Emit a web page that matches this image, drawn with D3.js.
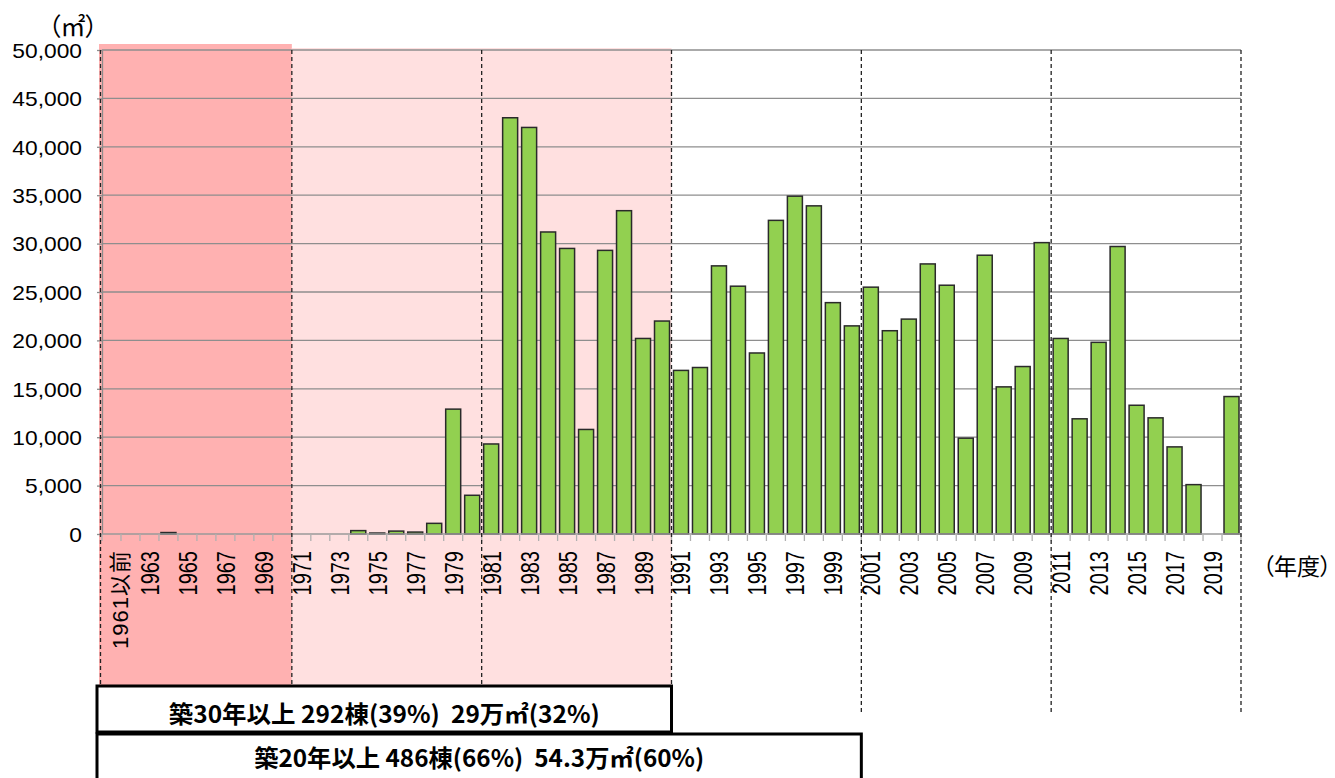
<!DOCTYPE html>
<html><head><meta charset="utf-8">
<script src="https://cdn.jsdelivr.net/npm/d3@7"></script>
<style>body{margin:0;background:#fff;} svg{display:block;}</style>
</head><body>
<svg id="chart" width="1335" height="778"></svg>
<script>
const categories = ["1961以前","1962","1963","1964","1965","1966","1967","1968","1969","1970",
  "1971","1972","1973","1974","1975","1976","1977","1978","1979","1980",
  "1981","1982","1983","1984","1985","1986","1987","1988","1989","1990",
  "1991","1992","1993","1994","1995","1996","1997","1998","1999","2000",
  "2001","2002","2003","2004","2005","2006","2007","2008","2009","2010",
  "2011","2012","2013","2014","2015","2016","2017","2018","2019","2020"];
const floorArea = [0,0,0,150,0,0,0,0,0,0,
  0,0,0,350,100,300,200,1100,12900,4000,
  9300,43000,42000,31200,29500,10800,29300,33400,20200,22000,
  16900,17200,27700,25600,18700,32400,34900,33900,23900,21500,
  25500,21000,22200,27900,25700,9900,28800,15200,17300,30100,
  20200,11900,19800,29700,13300,12000,9000,5100,0,14200];
const tickLabels = ["1961以前","1963","1965","1967","1969","1971","1973","1975","1977","1979",
  "1981","1983","1985","1987","1989","1991","1993","1995","1997","1999",
  "2001","2003","2005","2007","2009","2011","2013","2015","2017","2019"];
const yTicks = [0,5000,10000,15000,20000,25000,30000,35000,40000,45000,50000];
const ageBandStart = ["1961以前","1971"];
const ageBandEnd = ["1970","1990"];
const dividerBefore = ["1961以前","1971","1981","1991","2001","2011"];
const summaryText = ["築30年以上 292棟(39%)  29万㎡(32%)", "築20年以上 486棟(66%)  54.3万㎡(60%)"];
const summaryEnd = ["1990","2000"];
const yUnit = "（㎡）";
const xUnit = "（年度）";

const svg = d3.select("#chart");
const pLeft = 102, pRight = 1241, pTop = 50, pBottom = 534;
const x = d3.scaleBand().domain(categories).range([pLeft, pRight]).paddingInner(0.21).paddingOuter(0.105);
const y = d3.scaleLinear().domain([0, 50000]).range([pBottom, pTop]);
const edge = c => x(c) - x.step() * x.paddingInner() / 2;
const edgeAfter = c => edge(c) + x.step();

// age band backgrounds
const bandColors = ["#FFB1B1", "#FFE0E0"];
ageBandStart.forEach((s, i) => {
  const x0 = i === 0 ? edge(s) - 3 : edge(s);
  const y0 = i === 0 ? pTop - 6 : pTop - 2;
  svg.append("rect")
    .attr("x", x0).attr("y", y0)
    .attr("width", edgeAfter(ageBandEnd[i]) - x0)
    .attr("height", 685 - y0)
    .attr("fill", bandColors[i]);
});

// gridlines
svg.append("g").selectAll("line").data(yTicks.filter(d => d > 0)).join("line")
  .attr("x1", pLeft).attr("x2", pRight)
  .attr("y1", d => y(d)).attr("y2", d => y(d))
  .attr("stroke", "#8e8e8e").attr("stroke-width", 1.3);

// y axis
const yAxis = svg.append("g").attr("transform", `translate(${pLeft},0)`)
  .call(d3.axisLeft(y).tickValues(yTicks).tickSize(5).tickSizeOuter(0).tickFormat(d3.format(",")));
yAxis.select(".domain").attr("stroke", "#8e8e8e").attr("stroke-width", 1.3);
yAxis.selectAll(".tick line").attr("stroke", "#8e8e8e").attr("stroke-width", 1.3);
yAxis.selectAll(".tick text")
  .attr("x", 0).attr("dy", "0.36em")
  .attr("transform", "translate(-20,0) scale(1.14,1)")
  .style("font-family", "'Liberation Sans', Arial, sans-serif")
  .style("font-size", "20px").attr("fill", "#000");

// bars
svg.append("g").selectAll("rect").data(categories).join("rect")
  .attr("x", c => x(c))
  .attr("y", (c, i) => y(floorArea[i]))
  .attr("width", x.bandwidth())
  .attr("height", (c, i) => pBottom - y(floorArea[i]))
  .attr("fill", "#92D050")
  .attr("stroke", "#2a2a2a")
  .attr("stroke-width", 1.5)
  .style("display", (c, i) => floorArea[i] > 0 ? null : "none");

// x axis line + ticks at category boundaries
svg.append("line").attr("x1", pLeft).attr("x2", pRight).attr("y1", pBottom).attr("y2", pBottom)
  .attr("stroke", "#9a9a9a").attr("stroke-width", 1.5);
svg.append("g").selectAll("line").data(categories).join("line")
  .attr("x1", c => edge(c)).attr("x2", c => edge(c))
  .attr("y1", pBottom).attr("y2", pBottom + 7)
  .attr("stroke", "#b0b0b0").attr("stroke-width", 1.3);
svg.append("line").attr("x1", pRight).attr("x2", pRight).attr("y1", pBottom).attr("y2", pBottom + 7)
  .attr("stroke", "#b0b0b0").attr("stroke-width", 1.3);

// dashed dividers
const dividerX = dividerBefore.map(c => edge(c)).concat([pRight]);
dividerX.forEach((dx, i) => {
  svg.append("line")
    .attr("x1", i === 0 ? dx - 1.5 : dx).attr("x2", i === 0 ? dx - 1.5 : dx)
    .attr("y1", pTop).attr("y2", i < 4 ? 685 : 714)
    .attr("stroke", "#222").attr("stroke-width", 1.3)
    .attr("stroke-dasharray", "4,3");
});

// x tick labels
svg.append("g").selectAll("text").data(tickLabels).join("text")
  .attr("transform", d => {
    const cx = x(d) + x.bandwidth() / 2;
    const numeric = /^\d+$/.test(d);
    return numeric
      ? `translate(${cx + 9.5},551) rotate(-90) scale(0.8,1)`
      : `translate(${cx + 17},551) rotate(-90)`;
  })
  .attr("text-anchor", "end")
  .attr("textLength", d => /^\d+$/.test(d) ? null : 98)
  .attr("lengthAdjust", "spacing")
  .style("font-family", d => /^\d+$/.test(d) ? "'Liberation Sans', Arial, sans-serif" : "'Liberation Sans', 'Noto Sans CJK JP', sans-serif")
  .style("font-size", d => /^\d+$/.test(d) ? "25px" : "22px")
  .attr("fill", "#000")
  .text(d => d);

// unit labels (proportional CJK punctuation)
svg.append("text").attr("x", 73).attr("y", 36).attr("text-anchor", "middle")
  .style("font-family", "'Noto Sans CJK JP', sans-serif").style("font-size", "25px")
  .style("font-feature-settings", "'palt'")
  .text(yUnit);
svg.append("text").attr("x", 1297).attr("y", 575).attr("text-anchor", "middle")
  .style("font-family", "'Noto Sans CJK JP', sans-serif").style("font-size", "23px")
  .style("font-feature-settings", "'palt'")
  .text(xUnit);

// summary boxes
const boxTop = [686, 734], boxH = [46, 60], textLen = [431, 450], textY = [723, 767];
summaryText.forEach((t, i) => {
  const x0 = pLeft - 5;
  const x1 = edgeAfter(summaryEnd[i]);
  svg.append("rect").attr("x", x0).attr("y", boxTop[i])
    .attr("width", x1 - x0).attr("height", boxH[i])
    .attr("fill", "#fff").attr("stroke", "#000").attr("stroke-width", 3);
  svg.append("text").attr("x", (x0 + x1) / 2).attr("y", textY[i])
    .attr("text-anchor", "middle")
    .attr("textLength", textLen[i]).attr("lengthAdjust", "spacingAndGlyphs")
    .style("white-space", "pre")
    .style("font-family", "'Noto Sans CJK JP', sans-serif")
    .style("font-weight", "bold").style("font-size", "24px")
    .text(t);
});
</script>
</body></html>
